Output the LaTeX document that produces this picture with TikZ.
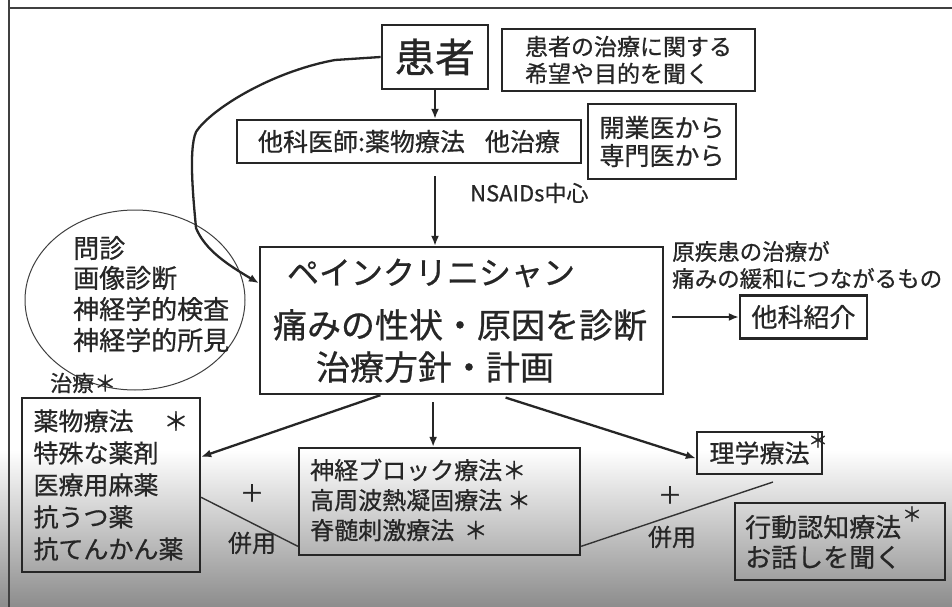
\documentclass[tikz,border=0pt]{standalone}
\usepackage{fontspec}
\setmainfont{Noto Sans CJK JP}[FakeBold=0.7]
\usetikzlibrary{calc,arrows.meta,shapes.geometric}
\begin{document}
\begin{tikzpicture}[x=1pt,y=-1pt,
  box/.style={draw=black!85, line width=2.3pt, inner sep=0pt, text=black!85},
  conn/.style={draw=black!85, line width=2.3pt, -{Latex[length=10pt,width=8pt]}},
  thinline/.style={draw=black!80, line width=1.4pt},
  txt/.style={text=black!85, inner sep=0pt},
  fs/.style={font=\fontsize{#1}{#1}\selectfont}
]
\fill[white] (0,0) rectangle (952,607);
\shade[top color=white,bottom color=black!45] (0,450) rectangle (952,607);
\useasboundingbox (0,0) rectangle (952,607);
\draw[line width=2pt, black!75] (9,0) -- (9,607);
\draw[line width=2pt, black!75] (9,8) -- (952,8);

% top
\node[box, line width=2.8pt, minimum width=106pt, minimum height=64pt, fs=40] (kanja) at (435,57) {患者};
\node[box, minimum width=253pt, minimum height=62pt, align=left, font=\fontsize{23}{27}\selectfont] (kibou) at (628.5,60) {患者の治療に関する\\希望や目的を聞く};
\node[box, minimum width=344pt, minimum height=43pt, fs=25] (taka) at (409,141.5) {他科医師:薬物療法\hspace{0.8em}他治療};
\node[box, minimum width=148pt, minimum height=75pt, align=left, font=\fontsize{25}{28}\selectfont] (kaigyo) at (662,141.5) {開業医から\\専門医から};
\node[txt, anchor=west, fs=22] (nsaids) at (470,193) {NSAIDs中心};

% center
\node[box, minimum width=403pt, minimum height=147pt] (pc) at (461.5,320.5) {};
\node[txt, fs=32] (pc1) at (431,273) {ペインクリニシャン};
\node[txt, fs=34] (pc2) at (460,325) {痛みの性状・原因を診断};
\node[txt, fs=34] (pc3) at (435,367) {治療方針・計画};

% ellipse
\node[draw=black!75, ellipse, line width=1pt, minimum width=220pt, minimum height=180pt] (ell) at (135,300) {};
\node[txt, anchor=west, fs=26] (e1) at (73,248) {問診};
\node[txt, anchor=west, fs=26] (e2) at (73,278) {画像診断};
\node[txt, anchor=west, fs=26] (e3) at (73,309) {神経学的検査};
\node[txt, anchor=west, fs=26] (e4) at (73,340) {神経学的所見};
\node[txt, anchor=west, fs=22] (chiryo) at (50,383) {治療＊};

% right
\node[txt, anchor=west, align=left, font=\fontsize{22.5}{27}\selectfont] (gen) at (672,265) {原疾患の治療が\\痛みの緩和につながるもの};
\node[box, minimum width=127pt, minimum height=43pt, fs=26] (shoukai) at (803.5,317) {他科紹介};

% bottom
\node[box, minimum width=178pt, minimum height=174pt, align=left, font=\fontsize{25}{32}\selectfont] (yaku) at (111,485) {薬物療法\hspace{1.2em}＊\\特殊な薬剤\\医療用麻薬\\抗うつ薬\\抗てんかん薬};
\node[box, minimum width=281pt, minimum height=107pt] (shinkei) at (439.5,501.5) {};
\node[txt, anchor=west, align=left, font=\fontsize{24}{30}\selectfont] (shinkeit) at (310,500) {神経ブロック療法＊\\高周波熱凝固療法\hspace{0.2em}＊\\脊髄刺激療法\hspace{0.4em}＊};
\node[box, minimum width=125pt, minimum height=42pt, fs=25] (rigaku) at (759.5,453) {理学療法};
\node[txt, fs=20] (rigast) at (818,440) {＊};
\node[box, minimum width=210pt, minimum height=77pt] (koudou) at (840,541.5) {};
\node[txt, anchor=west, align=left, font=\fontsize{26}{30}\selectfont] (koudout) at (745,542) {行動認知療法\\お話しを聞く};
\node[txt, fs=20] (koudast) at (912,514) {＊};

\node[txt, fs=24] (plus1) at (252,493) {＋};
\node[txt, fs=24] (heiyo1) at (252,543) {併用};
\node[txt, fs=24] (plus2) at (670,495) {＋};
\node[txt, fs=24] (heiyo2) at (672,537) {併用};

% connectors
\draw[conn] (kanja.south) -- (kanja.south |- taka.north);
\draw[conn, shorten <=12pt] (kanja.south |- taka.south) -- (kanja.south |- pc.north);
\draw[conn, shorten <=8pt] (pc.east |- shoukai.west) -- (shoukai.west);
\draw[conn] (kanja.west) -- (335,60) .. controls (270,72) and (210,110) .. (196,132) .. controls (188,150) and (194,205) .. (196,228) .. controls (205,250) and (228,265) .. ($(pc.north west)!0.25!(pc.south west)$);

\coordinate (pcs) at ($(pc.south west)!0.43!(pc.south east)$);
\draw[conn] ($(pc.south west)!0.30!(pc.south east)$) -- ($(yaku.north east)!0.34!(yaku.south east)$);
\draw[conn, shorten <=7pt] (pcs) -- (pcs |- shinkei.north);
\draw[conn, shorten <=8pt] ($(pc.south west)!0.59!(pc.south east)$) -- ($(rigaku.north west)!0.62!(rigaku.south west)$);
\draw[thinline] ($(yaku.north east)!0.57!(yaku.south east)$) -- ($(shinkei.north west)!0.91!(shinkei.south west)$);
\coordinate (free) at (773,482);
\draw[thinline] ($(shinkei.north east)!0.91!(shinkei.south east)$) -- (free);
\end{tikzpicture}
\end{document}
